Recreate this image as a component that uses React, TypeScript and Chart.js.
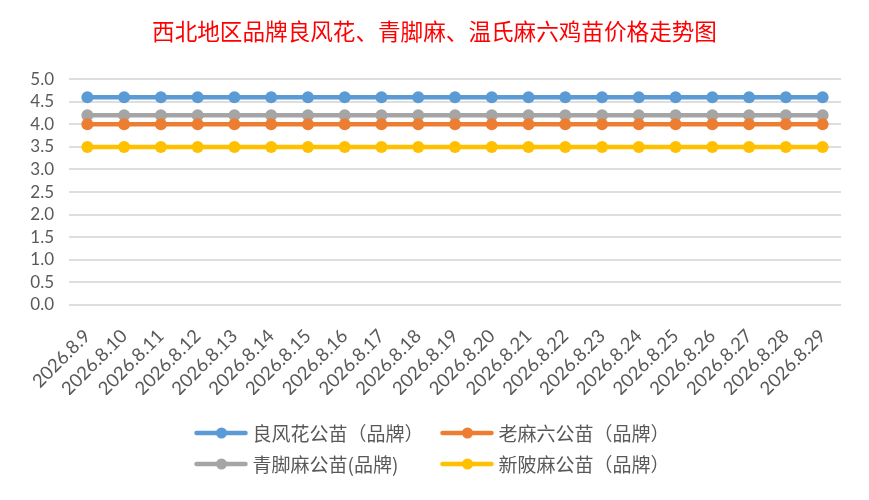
import { Chart, registerables } from "chart.js";
import { useEffect, useRef } from "react";
Chart.register(...registerables);

const dates = [
  "2026.8.9", "2026.8.10", "2026.8.11", "2026.8.12", "2026.8.13", "2026.8.14", "2026.8.15",
  "2026.8.16", "2026.8.17", "2026.8.18", "2026.8.19", "2026.8.20", "2026.8.21", "2026.8.22",
  "2026.8.23", "2026.8.24", "2026.8.25", "2026.8.26", "2026.8.27", "2026.8.28", "2026.8.29",
];
const liangFengHua = [4.6, 4.6, 4.6, 4.6, 4.6, 4.6, 4.6, 4.6, 4.6, 4.6, 4.6, 4.6, 4.6, 4.6, 4.6, 4.6, 4.6, 4.6, 4.6, 4.6, 4.6];
const laoMaLiu = [4.0, 4.0, 4.0, 4.0, 4.0, 4.0, 4.0, 4.0, 4.0, 4.0, 4.0, 4.0, 4.0, 4.0, 4.0, 4.0, 4.0, 4.0, 4.0, 4.0, 4.0];
const qingJiaoMa = [4.2, 4.2, 4.2, 4.2, 4.2, 4.2, 4.2, 4.2, 4.2, 4.2, 4.2, 4.2, 4.2, 4.2, 4.2, 4.2, 4.2, 4.2, 4.2, 4.2, 4.2];
const xinPiMa = [3.5, 3.5, 3.5, 3.5, 3.5, 3.5, 3.5, 3.5, 3.5, 3.5, 3.5, 3.5, 3.5, 3.5, 3.5, 3.5, 3.5, 3.5, 3.5, 3.5, 3.5];
const seriesNames = ["良风花公苗（品牌）", "老麻六公苗（品牌）", "青脚麻公苗(品牌)", "新陂麻公苗（品牌）"];
const title = "西北地区品牌良风花、青脚麻、温氏麻六鸡苗价格走势图";

const colors = ["#5B9BD5", "#ED7D31", "#A5A5A5", "#FFC000"];
const textColor = "#595959";
const latin = "Lato, 'Noto Sans CJK SC', sans-serif";
const cjk = "'Noto Sans CJK SC', Lato, sans-serif";

// excel-like legend: 2 columns, 2 rows, columns aligned
const legendGrid = {
  id: "legendGrid",
  afterDraw(chart: Chart) {
    const { ctx, width } = chart;
    const cx = width / 2;
    const cols = [cx - 238, cx + 8];
    const rows = [428, 459];
    ctx.save();
    ctx.font = `19px ${cjk}`;
    ctx.textBaseline = "middle";
    ctx.fillStyle = textColor;
    chart.data.datasets.forEach((ds: any, i: number) => {
      const x = cols[i % 2];
      const y = rows[Math.floor(i / 2)];
      ctx.strokeStyle = ds.borderColor;
      ctx.lineWidth = 4.5;
      ctx.lineCap = "round";
      ctx.beginPath();
      ctx.moveTo(x, y);
      ctx.lineTo(x + 49, y);
      ctx.stroke();
      ctx.fillStyle = ds.borderColor;
      ctx.beginPath();
      ctx.arc(x + 25, y, 5.5, 0, Math.PI * 2);
      ctx.fill();
      ctx.fillStyle = textColor;
      ctx.fillText(ds.label, x + 56, y + 1);
    });
    ctx.restore();
  },
};

const App = () => {
  const ref = useRef<null | HTMLCanvasElement>(null);
  useEffect(() => {
    if (!ref.current) return;
    const ctx = ref.current.getContext("2d");
    if (!ctx) throw new Error("Canvas Error: Ctx not available");
    const series = [liangFengHua, laoMaLiu, qingJiaoMa, xinPiMa];
    const chart = new Chart(ctx, {
      type: "line",
      data: {
        labels: dates,
        datasets: series.map((d, i) => ({
          label: seriesNames[i],
          data: d,
          borderColor: colors[i],
          backgroundColor: colors[i],
          borderWidth: 4.5,
          pointRadius: 6,
          pointBorderWidth: 0,
          pointHoverRadius: 6,
          tension: 0,
        })),
      },
      options: {
        animation: false,
        responsive: true,
        maintainAspectRatio: false,
        layout: { padding: { left: 0, right: 0, top: 0, bottom: 100 } },
        plugins: {
          legend: { display: false },
          tooltip: { enabled: false },
          title: {
            display: true,
            text: title,
            color: "#FF0000",
            font: { family: cjk, size: 22.6, weight: "normal" },
            padding: { top: 13, bottom: 34 },
          },
        },
        scales: {
          x: {
            offset: true,
            grid: { display: false, drawTicks: false },
            border: { display: false },
            ticks: {
              color: textColor,
              font: { family: latin, size: 18.5 },
              maxRotation: 45,
              minRotation: 45,
              autoSkip: false,
              padding: 20,
            },
            afterFit: (s: any) => {
              s.height = 90;
            },
          },
          y: {
            min: 0,
            max: 5,
            grid: { color: "#DEDEDE", lineWidth: 2, drawTicks: false },
            border: { display: false },
            ticks: {
              stepSize: 0.5,
              autoSkip: false,
              color: textColor,
              font: { family: latin, size: 17 },
              padding: 15,
              callback: (v: any) => Number(v).toFixed(1),
            },
            afterFit: (s: any) => {
              s.width = 64;
            },
          },
          // empty right margin so the title stays centred on the whole chart
          yRight: {
            position: "right",
            grid: { display: false, drawTicks: false },
            border: { display: false },
            ticks: { display: false },
            afterFit: (s: any) => {
              s.width = 23;
            },
          },
        },
      },
      plugins: [legendGrid],
    });
    return () => chart.destroy();
  }, []);

  return (
    <div style={{ position: "relative", width: 869, height: 500, margin: -8, background: "#fff" }}>
      <div
        style={{
          position: "absolute",
          left: 3,
          top: 3,
          width: 863,
          height: 494,
          boxSizing: "border-box",
          border: "2px solid #D9D9D9",
          borderRadius: 2,
        }}
      >
        <canvas ref={ref}></canvas>
      </div>
    </div>
  );
};

export default App;
